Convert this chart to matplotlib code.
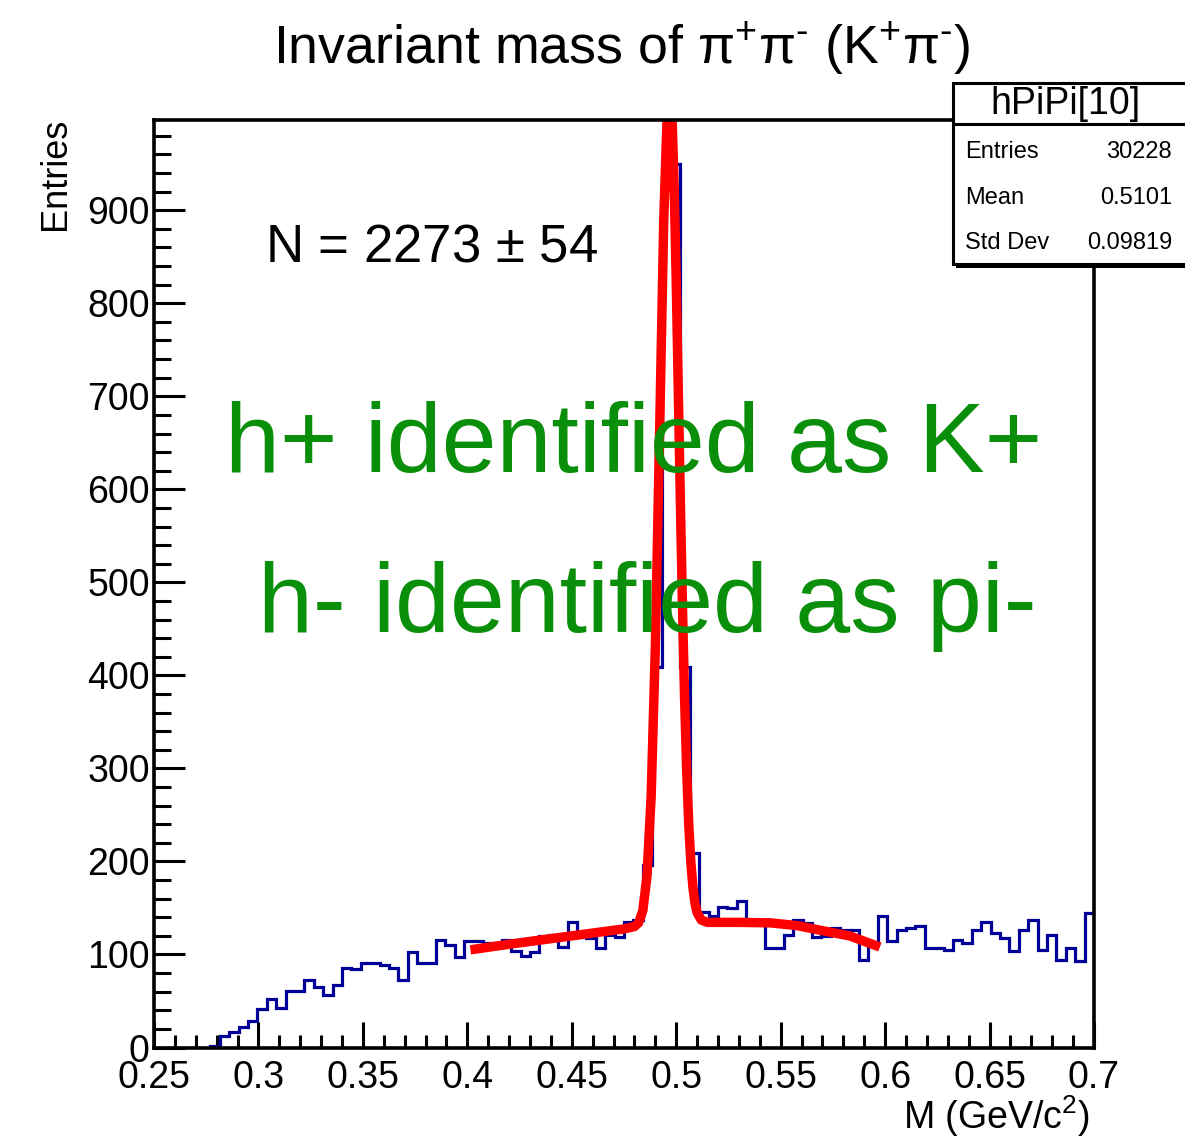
import numpy as np
import matplotlib
matplotlib.use('Agg')
import matplotlib.pyplot as plt
from matplotlib.patches import Rectangle

# histogram hPiPi[10]: 100 bins between 0.25 and 0.7 GeV/c^2
x_lo, x_hi, n_bins = 0.25, 0.7, 100
counts = [
    0, 0, 0, 0, 0, 0, 2, 12, 17, 22,
    28, 41, 52, 42, 61, 61, 73, 65, 56, 67,
    85, 84, 91, 91, 89, 85, 73, 103, 91, 91,
    116, 110, 97, 114, 114, 112, 110, 116, 104, 98,
    103, 120, 121, 108, 135, 122, 118, 107, 121, 119,
    135, 137, 196, 409, 928, 950, 409, 209, 146, 141,
    151, 150, 157, 136, 134, 107, 107, 121, 137, 134,
    119, 120, 128, 126, 126, 94, 110, 141, 114, 126,
    128, 131, 107, 107, 105, 116, 112, 126, 135, 123,
    118, 104, 126, 137, 105, 121, 94, 107, 93, 145,
]

# fit curve (gaus + background)
fit_x = [0.4015, 0.42, 0.44, 0.46, 0.475, 0.480, 0.482, 0.484, 0.486, 0.488,
         0.490, 0.492, 0.494, 0.496, 0.497, 0.498, 0.499, 0.500, 0.501, 0.502,
         0.503, 0.504, 0.505, 0.506, 0.507, 0.508, 0.509, 0.510, 0.512, 0.515,
         0.530, 0.545, 0.558, 0.569, 0.583, 0.5975]
fit_y = [105, 111, 117, 123, 127.5, 130, 134, 147, 184, 270,
         430, 656, 887, 1026, 1035, 1000, 927, 824, 705, 585,
         473, 376, 298, 240, 199, 172, 155, 145, 137, 134.5,
         134.5, 134, 131, 126, 120, 108]

n_signal = 'N = 2273 $\\pm$ 54'
stats_name = 'hPiPi[10]'
stats_rows = [('Entries', '30228'), ('Mean', '0.5101'), ('Std Dev', '0.09819')]
note_lines = ['h+ identified as K+', 'h- identified as pi-']

plt.rcParams['font.family'] = ['Liberation Sans', 'DejaVu Sans']
plt.rcParams['mathtext.fontset'] = 'custom'
plt.rcParams['mathtext.rm'] = 'Liberation Sans'
plt.rcParams['mathtext.it'] = 'Liberation Sans:italic'
plt.rcParams['mathtext.bf'] = 'Liberation Sans:bold'

W, H = 1185, 1139
fig = plt.figure(figsize=(W / 100, H / 100), dpi=100)


def fx(px):
    return px / W


def fy(py):
    return 1 - py / H


ax = fig.add_axes([fx(154), fy(1047.5), (1094 - 154) / W, (1047.5 - 120) / H])

edges = np.linspace(x_lo, x_hi, n_bins + 1)
ax.stairs(counts, edges, baseline=None, color='#000099', lw=2.3, zorder=2)
ax.plot(fit_x, fit_y, color='red', lw=6.8, solid_joinstyle='round',
        solid_capstyle='butt', zorder=3)

ax.set_xlim(x_lo, x_hi)
ax.set_ylim(0, 997)
ax.set_xticks(np.arange(0.25, 0.701, 0.05))
ax.set_xticklabels(['0.25', '0.3', '0.35', '0.4', '0.45', '0.5', '0.55',
                    '0.6', '0.65', '0.7'])
ax.set_xticks(np.arange(0.25, 0.701, 0.01), minor=True)
ax.set_yticks(np.arange(0, 901, 100))
ax.set_yticks(np.arange(0, 997, 20), minor=True)

ax.tick_params(axis='both', which='both', direction='in', top=False, right=False,
               width=2.2, labelsize=27)
ax.tick_params(axis='x', which='major', length=19, pad=9)
ax.tick_params(axis='x', which='minor', length=9.5)
ax.tick_params(axis='y', which='major', length=22, pad=3)
ax.tick_params(axis='y', which='minor', length=12)
for s in ax.spines.values():
    s.set_linewidth(2.6)
    s.set_zorder(5)

# titles
fig.text(fx(622), fy(64),
         'Invariant mass of $\\mathrm{\\pi^{+}\\pi^{\\text{-}}}$ (K$^{+}\\mathrm{\\pi^{\\text{-}}}$)',
         ha='center', va='baseline', fontsize=38.7)
fig.text(fx(55), fy(118), 'Entries', rotation=90, ha='center', va='top', fontsize=26)
fig.text(fx(1090), fy(1116), 'M (GeV/c$^{2}$)', ha='right', va='center', fontsize=27)
fig.text(fx(265), fy(261), n_signal, ha='left', va='baseline', fontsize=38)

# stats box
fig.add_artist(Rectangle((fx(956), fy(268)), fx(240), (268 - 86) / H,
                         facecolor='black', edgecolor='none', zorder=10))
fig.add_artist(Rectangle((fx(953), fy(124)), fx(240), (124 - 83) / H,
                         facecolor='white', edgecolor='black', lw=2.2, zorder=11))
fig.add_artist(Rectangle((fx(953), fy(264)), fx(240), (264 - 124) / H,
                         facecolor='white', edgecolor='black', lw=2.2, zorder=11))
fig.text(fx(1065), fy(104), stats_name, ha='center', va='center', fontsize=27, zorder=12)
for i, (lab, val) in enumerate(stats_rows):
    yy = fy(152 + 45.5 * i)
    fig.text(fx(965), yy, lab, ha='left', va='center', fontsize=17, zorder=12)
    fig.text(fx(1172), yy, val, ha='right', va='center', fontsize=17, zorder=12)

# handwritten note
green = '#0a8f0a'
fig.text(fx(225), fy(472), note_lines[0], ha='left', va='baseline', fontsize=71,
         color=green)
fig.text(fx(258), fy(632), note_lines[1], ha='left', va='baseline', fontsize=71,
         color=green)

fig.savefig('out.png', dpi=100)
